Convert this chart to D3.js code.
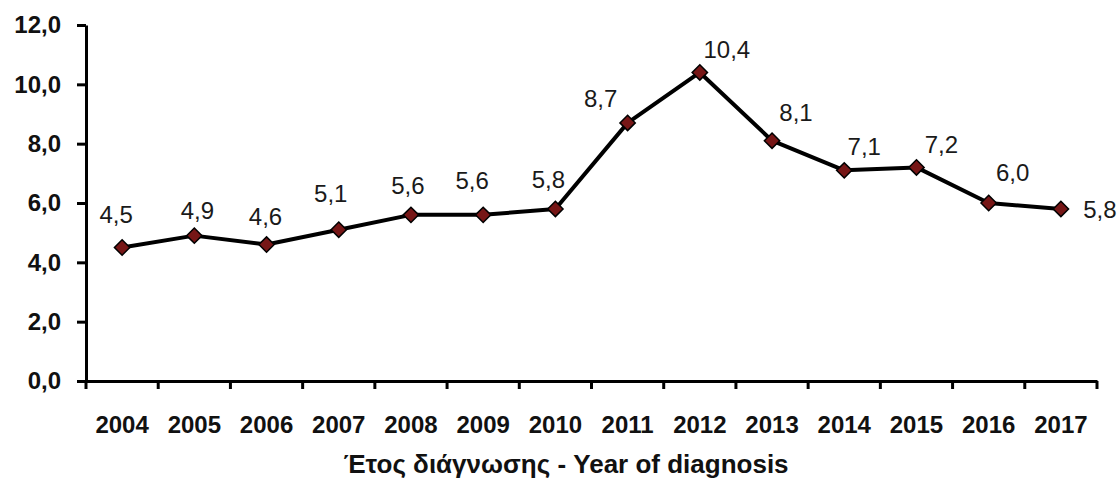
<!DOCTYPE html>
<html><head><meta charset="utf-8">
<script src="https://cdn.jsdelivr.net/npm/d3@7"></script>
<style>body{margin:0;background:#fff}svg{display:block}</style>
</head><body>
<svg id="c" width="1120" height="478"></svg>
<script>
const years = ["2004","2005","2006","2007","2008","2009","2010","2011","2012","2013","2014","2015","2016","2017"];
const values = [4.5,4.9,4.6,5.1,5.6,5.6,5.8,8.7,10.4,8.1,7.1,7.2,6.0,5.8];
const yTicks = [0,2,4,6,8,10,12];
const xTitle = "Έτος διάγνωσης - Year of diagnosis";
// label offsets (dx, dy) relative to point, layout only
const labelOffsets = [[-6,-25],[3,-17],[-1,-20],[-8,-28],[-3,-21],[-11,-26],[-7,-21],[-27,-16],[27,-14],[24,-20],[20,-15],[25,-14],[24,-22],[39,9]];

const svg = d3.select("#c");
const m = {l:86, r:1097, t:25, b:381};
const x = d3.scaleBand().domain(years).range([m.l, m.r]);
const y = d3.scaleLinear().domain([0,12]).range([m.b, m.t]);
const fmt = v => d3.format(".1f")(v).replace(".", ",");
const FF = "Liberation Sans, Arial, sans-serif";

// y axis
const ya = svg.append("g").attr("transform",`translate(${m.l},0)`)
  .call(d3.axisLeft(y).tickValues(yTicks).tickFormat(fmt).tickSize(9).tickPadding(16).tickSizeOuter(0));
ya.select(".domain").attr("stroke","#000").attr("stroke-width",3);
ya.selectAll(".tick line").attr("stroke","#000").attr("stroke-width",3);
ya.selectAll(".tick text").attr("font-family",FF).attr("font-weight","bold").attr("font-size",24).attr("fill","#111");

// x axis
const xa = svg.append("g").attr("transform",`translate(0,${m.b})`)
  .call(d3.axisBottom(x).tickSize(0).tickPadding(0).tickSizeOuter(0));
xa.select(".domain").attr("stroke","#000").attr("stroke-width",3);
xa.selectAll(".tick text").attr("font-family",FF).attr("font-weight","bold").attr("font-size",24).attr("fill","#111").attr("dy",0).attr("y",52);
// boundary ticks
const bounds = years.map(d => x(d)).concat([x(years[years.length-1]) + x.bandwidth()]);
svg.append("g").selectAll("line").data(bounds).join("line")
  .attr("x1",d=>d).attr("x2",d=>d).attr("y1",m.b).attr("y2",m.b+8)
  .attr("stroke","#000").attr("stroke-width",3);

// title
svg.append("text").attr("x",566).attr("y",473).attr("text-anchor","middle")
  .attr("font-family",FF).attr("font-weight","bold").attr("font-size",26).attr("fill","#111")
  .text(xTitle);

const cx = d => x(d) + x.bandwidth()/2;
const line = d3.line().x((d,i)=>cx(years[i])).y(d=>y(d));
svg.append("path").datum(values).attr("d",line).attr("fill","none").attr("stroke","#000").attr("stroke-width",4).attr("stroke-linejoin","round");

svg.append("g").selectAll("path").data(values).join("path")
  .attr("d", d3.symbol(d3.symbolDiamond2 || d3.symbolDiamond, 150))
  .attr("transform",(d,i)=>`translate(${cx(years[i])},${y(d)})`)
  .attr("fill","#761616").attr("stroke","#000").attr("stroke-width",1.5);

svg.append("g").selectAll("text").data(values).join("text")
  .attr("x",(d,i)=>cx(years[i]) + labelOffsets[i][0])
  .attr("y",(d,i)=>y(d) + labelOffsets[i][1])
  .attr("text-anchor","middle")
  .attr("font-family",FF).attr("font-size",24).attr("fill","#1a1a1a")
  .text(d=>fmt(d));
</script>
</body></html>
